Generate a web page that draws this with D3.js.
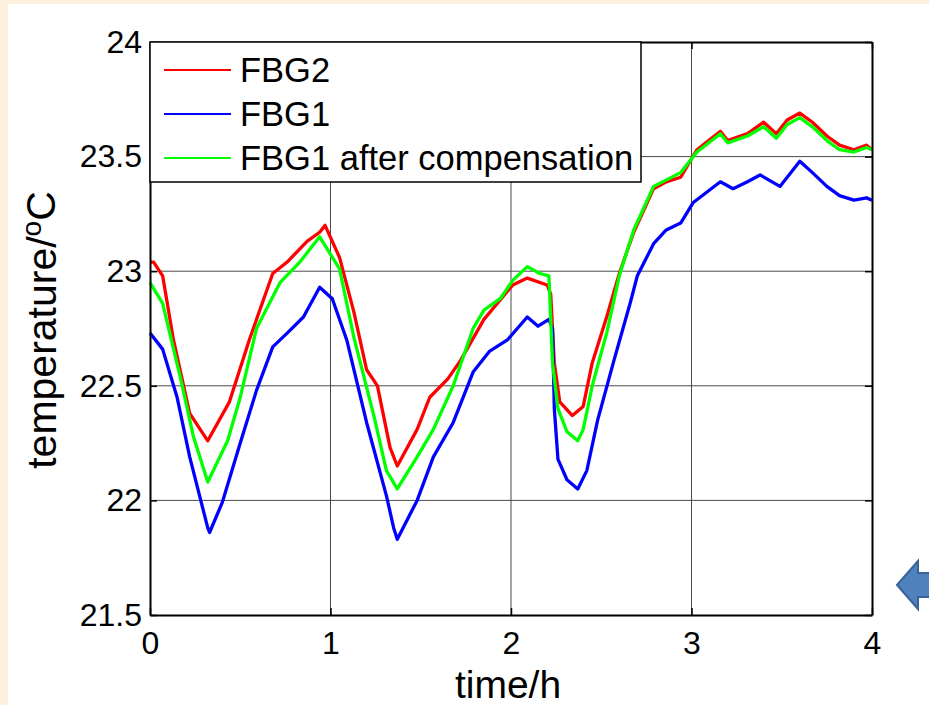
<!DOCTYPE html>
<html>
<head>
<meta charset="utf-8">
<script src="https://cdn.jsdelivr.net/npm/d3@7"></script>
<style>
  body { margin: 0; background: #fbf1dc; }
  text { font-family: "Liberation Sans", Arial, sans-serif; fill: #000; }
</style>
</head>
<body>
<div id="chart"></div>
<script>
// values (time in hours, temperature in degC)
var fbg2T = [0, 0.02, 0.07, 0.13, 0.22, 0.32, 0.44, 0.55, 0.68, 0.76, 0.87, 0.94, 0.97, 1.05, 1.13, 1.20, 1.26, 1.33, 1.37, 1.48, 1.55, 1.65, 1.72, 1.85, 2.01, 2.09, 2.20, 2.22, 2.24, 2.27, 2.34, 2.40, 2.45, 2.53, 2.60, 2.68, 2.79, 2.86, 2.94, 3.03, 3.16, 3.20, 3.31, 3.40, 3.47, 3.53, 3.60, 3.67, 3.75, 3.82, 3.90, 3.97, 4.0];
var fbg2 = [23.04, 23.04, 22.98, 22.70, 22.38, 22.26, 22.43, 22.70, 22.99, 23.04, 23.13, 23.17, 23.20, 23.06, 22.82, 22.57, 22.50, 22.23, 22.15, 22.31, 22.45, 22.53, 22.61, 22.79, 22.94, 22.97, 22.94, 22.90, 22.60, 22.43, 22.37, 22.41, 22.60, 22.80, 22.99, 23.17, 23.36, 23.39, 23.41, 23.53, 23.61, 23.57, 23.60, 23.65, 23.60, 23.66, 23.69, 23.65, 23.59, 23.55, 23.53, 23.55, 23.53];

var fbg1T = [0, 0.07, 0.15, 0.22, 0.32, 0.33, 0.40, 0.50, 0.59, 0.68, 0.76, 0.85, 0.94, 1.01, 1.09, 1.20, 1.31, 1.35, 1.37, 1.48, 1.57, 1.68, 1.79, 1.88, 1.98, 2.09, 2.15, 2.21, 2.23, 2.24, 2.26, 2.31, 2.37, 2.42, 2.48, 2.57, 2.66, 2.70, 2.79, 2.86, 2.94, 3.01, 3.16, 3.23, 3.31, 3.38, 3.49, 3.60, 3.67, 3.75, 3.82, 3.90, 3.97, 4.0];
var fbg1 = [22.73, 22.66, 22.45, 22.19, 21.88, 21.86, 21.99, 22.25, 22.48, 22.67, 22.73, 22.80, 22.93, 22.88, 22.70, 22.34, 22.02, 21.88, 21.83, 22.00, 22.19, 22.34, 22.56, 22.65, 22.70, 22.80, 22.76, 22.79, 22.75, 22.40, 22.18, 22.09, 22.05, 22.13, 22.35, 22.61, 22.86, 22.98, 23.12, 23.18, 23.21, 23.30, 23.39, 23.36, 23.39, 23.42, 23.37, 23.48, 23.43, 23.37, 23.33, 23.31, 23.32, 23.31];

var compT = [0, 0.07, 0.17, 0.24, 0.32, 0.43, 0.50, 0.59, 0.72, 0.83, 0.94, 1.05, 1.13, 1.24, 1.31, 1.37, 1.48, 1.57, 1.68, 1.79, 1.85, 1.94, 2.01, 2.09, 2.16, 2.21, 2.23, 2.26, 2.31, 2.37, 2.40, 2.45, 2.53, 2.60, 2.68, 2.79, 2.94, 3.03, 3.16, 3.20, 3.31, 3.40, 3.47, 3.53, 3.60, 3.67, 3.75, 3.82, 3.90, 3.97, 4.0];
var comp = [22.95, 22.86, 22.53, 22.28, 22.08, 22.26, 22.45, 22.75, 22.95, 23.04, 23.15, 23.01, 22.71, 22.37, 22.13, 22.05, 22.19, 22.31, 22.50, 22.75, 22.83, 22.88, 22.96, 23.02, 22.99, 22.98, 22.60, 22.40, 22.30, 22.26, 22.31, 22.50, 22.73, 22.98, 23.18, 23.37, 23.43, 23.52, 23.60, 23.56, 23.59, 23.63, 23.58, 23.64, 23.67, 23.63, 23.57, 23.53, 23.52, 23.54, 23.53];

var xTicks = [0, 1, 2, 3, 4];
var yTicks = [21.5, 22, 22.5, 23, 23.5, 24];
var yTickLabels = ["21.5", "22", "22.5", "23", "23.5", "24"];
var seriesNames = ["FBG2", "FBG1", "FBG1 after compensation"];
var seriesColors = ["#ff0000", "#0000ff", "#00ff00"];

var W = 929, H = 705;
var plotL = 150, plotR = 872, plotT = 42, plotB = 615;

var x = d3.scaleLinear().domain([0, 4]).range([plotL, plotR]);
var y = d3.scaleLinear().domain([21.5, 24]).range([plotB, plotT]);

var svg = d3.select("#chart").append("svg")
    .attr("width", W)
    .attr("height", H);

// slide background + white figure area
svg.append("rect").attr("width", W).attr("height", H).attr("fill", "#fbf1dc");
svg.append("rect").attr("x", 8).attr("y", 4).attr("width", W - 8).attr("height", H - 4).attr("fill", "#fff");

// grid
var grid = svg.append("g").attr("stroke", "#4a4a4a").attr("stroke-width", 1);
grid.selectAll(".gx").data(xTicks.slice(1, -1)).enter().append("line")
    .attr("x1", d => x(d)).attr("x2", d => x(d))
    .attr("y1", plotT).attr("y2", plotB);
grid.selectAll(".gy").data(yTicks.slice(1, -1)).enter().append("line")
    .attr("x1", plotL).attr("x2", plotR)
    .attr("y1", d => y(d)).attr("y2", d => y(d));

// lines
var line = d3.line().x(d => x(d[0])).y(d => y(d[1]));
var series = [d3.zip(fbg2T, fbg2), d3.zip(fbg1T, fbg1), d3.zip(compT, comp)];
series.forEach(function(s, i) {
  svg.append("path")
      .datum(s)
      .attr("fill", "none")
      .attr("stroke", seriesColors[i])
      .attr("stroke-width", 3.3)
      .attr("stroke-linejoin", "round")
      .attr("d", line);
});

// axes, ticks pointing in
var fmt = function(d) { return yTickLabels[yTicks.indexOf(d)]; };
var axL = svg.append("g").attr("transform", "translate(" + plotL + ",0)")
    .call(d3.axisLeft(y).tickValues(yTicks).tickFormat(fmt).tickSize(-7).tickSizeOuter(0).tickPadding(8));
var axB = svg.append("g").attr("transform", "translate(0," + plotB + ")")
    .call(d3.axisBottom(x).tickValues(xTicks).tickFormat(d3.format("d")).tickSize(-7).tickSizeOuter(0).tickPadding(16));
var axR = svg.append("g").attr("transform", "translate(" + plotR + ",0)")
    .call(d3.axisRight(y).tickValues(yTicks).tickFormat("").tickSize(-7).tickSizeOuter(0));
var axT = svg.append("g").attr("transform", "translate(0," + plotT + ")")
    .call(d3.axisTop(x).tickValues(xTicks).tickFormat("").tickSize(-7).tickSizeOuter(0));

[axL, axB, axR, axT].forEach(function(a) {
  a.select(".domain").attr("stroke", "#000").attr("stroke-width", 2);
  a.selectAll(".tick line").attr("stroke", "#000").attr("stroke-width", 1.5);
  a.selectAll(".tick text").attr("font-size", 32).attr("fill", "#000")
      .style("font-family", "'Liberation Sans', Arial, sans-serif");
});

// legend
var lg = svg.append("g");
lg.append("rect")
    .attr("x", plotL).attr("y", plotT)
    .attr("width", 491).attr("height", 140)
    .attr("fill", "#fff").attr("stroke", "#000").attr("stroke-width", 1.5);
var item = lg.selectAll(".legend").data(seriesNames).enter().append("g")
    .attr("class", "legend")
    .attr("transform", (d, i) => "translate(" + plotL + "," + (plotT + 28 + i * 44) + ")");
item.append("line")
    .attr("x1", 14).attr("x2", 81)
    .attr("stroke", (d, i) => seriesColors[i])
    .attr("stroke-width", 2);
item.append("text")
    .attr("x", 90).attr("dy", "0.36em")
    .attr("font-size", 34.5)
    .text(d => d);

// axis titles
svg.append("text")
    .attr("x", 508).attr("y", 698)
    .attr("text-anchor", "middle")
    .attr("font-size", 39)
    .text("time/h");

var yl = svg.append("text")
    .attr("transform", "translate(56,330) rotate(-90)")
    .attr("text-anchor", "middle")
    .attr("font-size", 41);
yl.append("tspan").text("temperature/");
yl.append("tspan").attr("font-size", 28).attr("dy", "-0.55em").text("o");
yl.append("tspan").attr("dy", "0.36em").text("C");

// slide arrow
svg.append("path")
    .attr("d", "M897,585L918,561L918,573L935,573L935,597L918,597L918,609Z")
    .attr("fill", "#4f81bd")
    .attr("stroke", "#3a6396")
    .attr("stroke-width", 2);
</script>
</body>
</html>
